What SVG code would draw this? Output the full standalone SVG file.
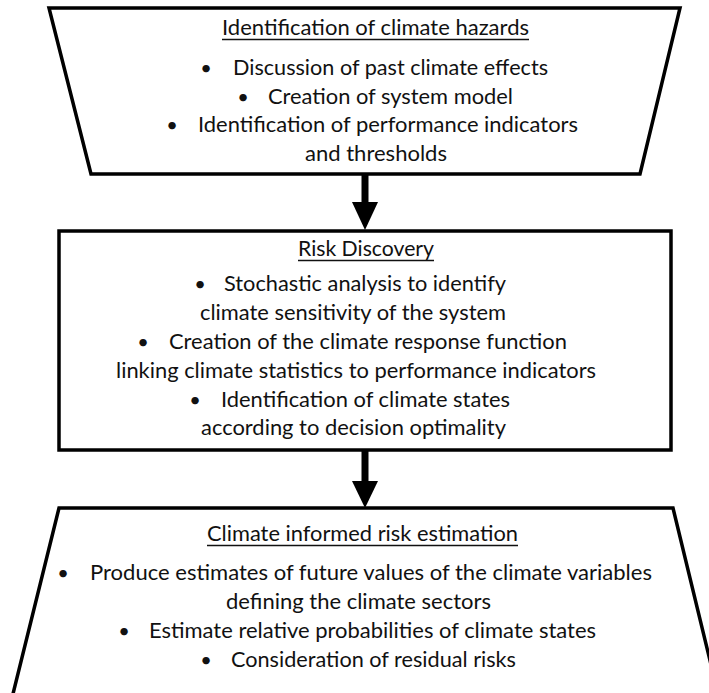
<svg xmlns="http://www.w3.org/2000/svg" width="709" height="693" viewBox="0 0 709 693">
  <style>
    .box { fill: #ffffff; stroke: #000000; stroke-width: 3.5; stroke-linejoin: miter; }
    .txt { font-family: Lato, "Open Sans", "Liberation Sans", sans-serif; font-size: 21px; fill: #111111; }
    .bul { font-family: Lato, "Open Sans", "Liberation Sans", sans-serif; font-size: 20px; fill: #111111; text-anchor: middle; }
    .ul { stroke: #111111; stroke-width: 1.3; }
    .shaft { stroke: #000000; stroke-width: 7; }
    .head { fill: #000000; }
  </style>
  <rect width="709" height="693" fill="#ffffff"/>

  <!-- stage 1: hazards (inverted trapezoid) -->
  <g id="hazards">
    <polygon class="box" points="49,8 680,8 640,174 91,174"/>
    <text class="txt" x="222" y="35" textLength="307" lengthAdjust="spacingAndGlyphs">Identification of climate hazards</text>
    <line class="ul" x1="222" y1="39.5" x2="529" y2="39.5"/>
    <text class="bul" x="206" y="75">•</text>
    <text class="txt" x="233" y="75" textLength="315" lengthAdjust="spacingAndGlyphs">Discussion of past climate effects</text>
    <text class="bul" x="243" y="104">•</text>
    <text class="txt" x="268" y="104" textLength="245" lengthAdjust="spacingAndGlyphs">Creation of system model</text>
    <text class="bul" x="172" y="132">•</text>
    <text class="txt" x="198" y="132" textLength="380" lengthAdjust="spacingAndGlyphs">Identification of performance indicators</text>
    <text class="txt" x="305" y="161" textLength="142" lengthAdjust="spacingAndGlyphs">and thresholds</text>
  </g>

  <!-- stage 2: risk discovery (rectangle) -->
  <g id="discovery">
    <rect class="box" x="59" y="231" width="612" height="219"/>
    <text class="txt" x="298" y="256" textLength="136" lengthAdjust="spacingAndGlyphs">Risk Discovery</text>
    <line class="ul" x1="298" y1="260.5" x2="434" y2="260.5"/>
    <text class="bul" x="200" y="291">•</text>
    <text class="txt" x="224" y="291" textLength="282" lengthAdjust="spacingAndGlyphs">Stochastic analysis to identify</text>
    <text class="txt" x="200" y="320" textLength="306" lengthAdjust="spacingAndGlyphs">climate sensitivity of the system</text>
    <text class="bul" x="143" y="349">•</text>
    <text class="txt" x="169" y="349" textLength="398" lengthAdjust="spacingAndGlyphs">Creation of the climate response function</text>
    <text class="txt" x="116" y="378" textLength="480" lengthAdjust="spacingAndGlyphs">linking climate statistics to performance indicators</text>
    <text class="bul" x="195" y="407">•</text>
    <text class="txt" x="221" y="407" textLength="289" lengthAdjust="spacingAndGlyphs">Identification of climate states</text>
    <text class="txt" x="201" y="435" textLength="305" lengthAdjust="spacingAndGlyphs">according to decision optimality</text>
  </g>

  <!-- stage 3: risk estimation (trapezoid running off the bottom edge) -->
  <g id="estimation">
    <polygon class="box" points="59,508 673,508 722,710 9,710"/>
    <text class="txt" x="207" y="541" textLength="311" lengthAdjust="spacingAndGlyphs">Climate informed risk estimation</text>
    <line class="ul" x1="207" y1="545.5" x2="518" y2="545.5"/>
    <text class="bul" x="63" y="580">•</text>
    <text class="txt" x="90" y="580" textLength="562" lengthAdjust="spacingAndGlyphs">Produce estimates of future values of the climate variables</text>
    <text class="txt" x="226" y="609" textLength="265" lengthAdjust="spacingAndGlyphs">defining the climate sectors</text>
    <text class="bul" x="124" y="638">•</text>
    <text class="txt" x="149" y="638" textLength="447" lengthAdjust="spacingAndGlyphs">Estimate relative probabilities of climate states</text>
    <text class="bul" x="206" y="667">•</text>
    <text class="txt" x="231" y="667" textLength="285" lengthAdjust="spacingAndGlyphs">Consideration of residual risks</text>
  </g>

  <!-- flow arrows between stages -->
  <g id="connectors">
    <line class="shaft" x1="365" y1="174" x2="365" y2="204"/>
    <polygon class="head" points="352,202 378,202 365,230"/>
    <line class="shaft" x1="365" y1="450" x2="365" y2="483"/>
    <polygon class="head" points="352,481 378,481 365,508"/>
  </g>
</svg>
